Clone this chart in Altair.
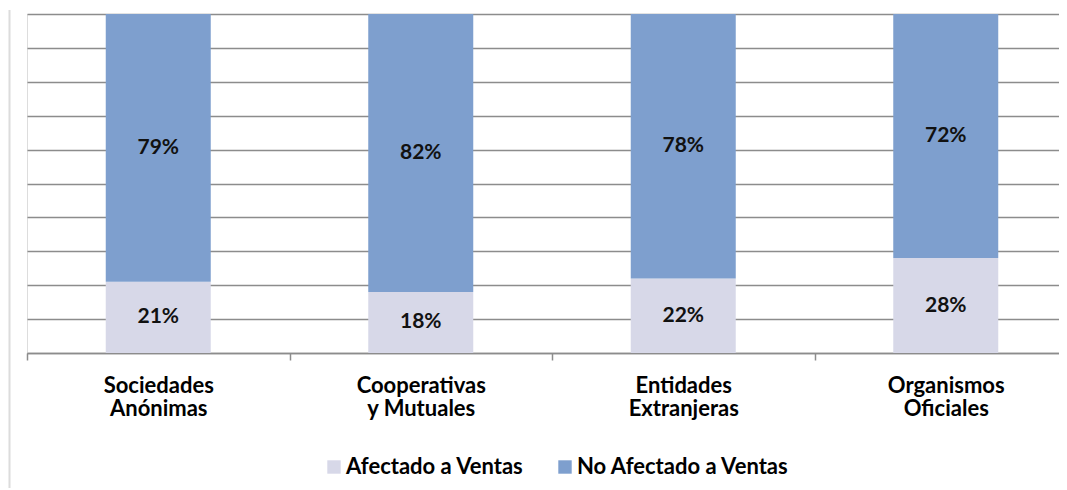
import altair as alt
import pandas as pd

categories = ["Sociedades Anónimas", "Cooperativas y Mutuales", "Entidades Extranjeras", "Organismos Oficiales"]
series = ["Afectado a Ventas", "No Afectado a Ventas"]
afectado = [21, 18, 22, 28]
no_afectado = [79, 82, 78, 72]
colors = ["#D7D8E8", "#7E9FCE"]
grid_values = [0, 10, 20, 30, 40, 50, 60, 70, 80, 90, 100]

rows = []
for i, c in enumerate(categories):
    rows.append({"cat": c, "serie": series[0], "ord": 0, "value": afectado[i]})
    rows.append({"cat": c, "serie": series[1], "ord": 1, "value": no_afectado[i]})
df = pd.DataFrame(rows)

FONT = "Lato"

base = alt.Chart(df).transform_stack(
    stack="value", groupby=["cat"], as_=["v0", "v1"], sort=[alt.SortField("ord", order="ascending")]
).transform_calculate(mid="(datum.v0 + datum.v1) / 2", lbl="datum.value + '%'")

x_axis = alt.Axis(
    title=None,
    tickBand="extent",
    domainColor="#8c8c8c",
    domainWidth=1.5,
    tickColor="#8c8c8c",
    tickWidth=1.5,
    tickSize=7,
    grid=False,
    labelFont=FONT,
    labelFontWeight="bold",
    labelFontSize=22,
    labelColor="#000000",
    labelPadding=15,
    labelLineHeight=23,
    labelAngle=0,
    labelExpr="[substring(datum.label, 0, indexof(datum.label, ' ')), substring(datum.label, indexof(datum.label, ' ') + 1)]",
)
x_scale = alt.Scale(paddingInner=0, paddingOuter=0)

y_axis = alt.Axis(
    title=None,
    values=grid_values,
    labels=False,
    ticks=False,
    domain=False,
    grid=True,
    gridColor="#8c8c8c",
    gridWidth=1.5,
)
y_scale = alt.Scale(domain=[0, 100], nice=False)

bars = base.mark_bar(width=alt.RelativeBandSize(0.4)).encode(
    x=alt.X("cat:N", sort=categories, scale=x_scale, axis=x_axis),
    y=alt.Y("v0:Q", scale=y_scale, axis=y_axis),
    y2="v1:Q",
    color=alt.Color(
        "serie:N",
        scale=alt.Scale(domain=series, range=colors),
        legend=alt.Legend(
            title=None,
            orient="none",
            direction="horizontal",
            legendX=296,
            legendY=442,
            symbolType="square",
            symbolSize=180,
            symbolStrokeWidth=0,
            labelFont=FONT,
            labelFontWeight="bold",
            labelFontSize=22,
            labelColor="#000000",
            labelOffset=1,
            labelLimit=0,
            columnPadding=30,
        ),
    ),
)

labels = base.mark_text(font=FONT, fontWeight="bold", fontSize=21, color="#111111").encode(
    x=alt.X("cat:N", sort=categories, scale=x_scale, axis=x_axis),
    y=alt.Y("mid:Q", scale=y_scale, axis=y_axis),
    text="lbl:N",
)

edge = alt.Chart(pd.DataFrame({"edge": [0]})).mark_rule(color="#dcdcdc", strokeWidth=2).encode(
    x=alt.value(-17.5), y=alt.value(-4), y2=alt.value(490)
)

chart = alt.layer(bars, labels, edge).properties(
    width=1050,
    height=339,
    autosize=alt.AutoSizeParams(type="none"),
    padding={"left": 19, "top": 6, "right": -18, "bottom": 135},
).configure_view(strokeWidth=0).configure(background="white")

chart.save("out.html", embed_options={"renderer": "svg", "actions": False})
